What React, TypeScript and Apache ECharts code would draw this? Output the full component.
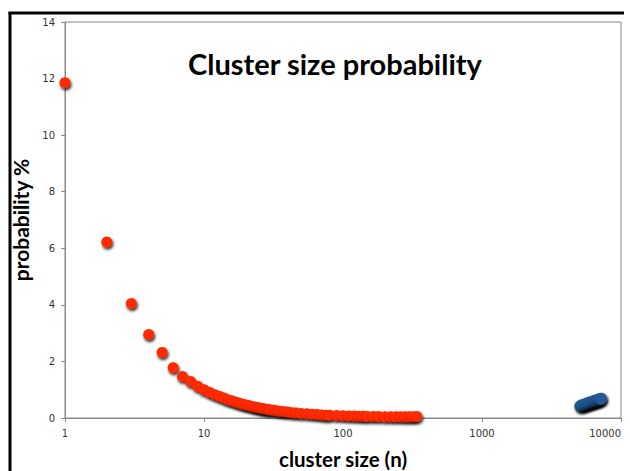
import React, { useEffect, useRef } from "react";
import * as echarts from "echarts";

const redSizes = [1, 2, 3, 4, 5, 6, 7, 8, 9, 10, 11, 12, 13, 14, 15, 16, 17, 18, 19, 20, 21, 22, 23, 24, 25, 26, 27, 28, 29, 30, 32, 34, 36, 38, 40, 43, 46, 50, 55, 60, 65, 70, 75, 80, 90, 100, 110, 120, 130, 140, 150, 165, 180, 200, 220, 240, 260, 280, 300, 320, 340];
const redProb = [11.85, 6.22, 4.05, 2.95, 2.32, 1.78, 1.47, 1.29, 1.12, 1.0, 0.9, 0.82, 0.76, 0.7, 0.64, 0.6, 0.56, 0.52, 0.49, 0.46, 0.44, 0.41, 0.39, 0.37, 0.35, 0.34, 0.32, 0.31, 0.3, 0.28, 0.27, 0.25, 0.23, 0.22, 0.21, 0.19, 0.18, 0.16, 0.15, 0.13, 0.12, 0.11, 0.1, 0.1, 0.09, 0.08, 0.07, 0.07, 0.06, 0.06, 0.05, 0.05, 0.05, 0.04, 0.04, 0.04, 0.04, 0.04, 0.04, 0.04, 0.05];
const blueSizes = [5100, 5250, 5400, 5550, 5700, 5850, 6000, 6150, 6300, 6450, 6600, 6750, 6900, 7050, 7200];
const blueProb = [0.42, 0.45, 0.47, 0.49, 0.51, 0.53, 0.55, 0.57, 0.58, 0.6, 0.62, 0.63, 0.65, 0.66, 0.68];
const yTicks = [0, 2, 4, 6, 8, 10, 12, 14];
const xTicks = [1, 10, 100, 1000, 10000];

const titleText = "Cluster size probability";
const xName = "cluster size (n)";
const yName = "probability %";

export default function App() {
  const ref = useRef<HTMLDivElement>(null);
  useEffect(() => {
    document.body.style.margin = "0";
    document.body.style.overflow = "hidden";
    if (!ref.current) return;
    const chart = echarts.init(ref.current, null, { renderer: "svg" });
    const red = redSizes.map((n, i) => [n, redProb[i]]);
    const blue = blueSizes.map((n, i) => [n, blueProb[i]]);
    const labelFont = { fontFamily: "DejaVu Sans", fontSize: 10, color: "#333" };
    chart.setOption({
      animation: false,
      backgroundColor: "#fff",
      title: {
        text: titleText,
        left: 330,
        top: 44,
        textAlign: "center",
        textStyle: { fontFamily: "Lato", fontWeight: "bold", fontSize: 29, color: "#000" },
      },
      graphic: [
        {
          type: "line",
          shape: { x1: 10, y1: 471, x2: 10, y2: 12 },
          style: { stroke: "#000", lineWidth: 3 },
          silent: true,
        },
        {
          type: "line",
          shape: { x1: 8.5, y1: 13, x2: 624, y2: 13 },
          style: { stroke: "#000", lineWidth: 3 },
          silent: true,
        },
      ],
      grid: {
        left: 65,
        right: 9,
        top: 22,
        bottom: 53,
        show: true,
        borderColor: "#8a8a8a",
        borderWidth: 1,
        containLabel: false,
        outerBoundsMode: "none",
      },
      xAxis: {
        type: "log",
        logBase: 10,
        min: xTicks[0],
        max: xTicks[xTicks.length - 1],
        name: xName,
        nameLocation: "middle",
        nameGap: 30,
        nameTextStyle: { fontFamily: "Lato", fontWeight: "bold", fontSize: 20.5, color: "#000" },
        axisLine: { show: true, lineStyle: { color: "#8a8a8a", width: 1 } },
        axisTick: { show: true, length: 4, lineStyle: { color: "#8a8a8a" } },
        minorTick: { show: false },
        splitLine: { show: false },
        axisLabel: {
          ...labelFont,
          margin: 10,
          alignMaxLabel: "right",
          formatter: (v: number) => String(Math.round(v)),
        },
      },
      yAxis: {
        type: "value",
        min: yTicks[0],
        max: yTicks[yTicks.length - 1],
        interval: 2,
        name: yName,
        nameLocation: "middle",
        nameGap: 30,
        nameTextStyle: { fontFamily: "Lato", fontWeight: "bold", fontSize: 21, color: "#000" },
        axisLine: { show: true, lineStyle: { color: "#8a8a8a", width: 1 } },
        axisTick: { show: true, length: 4, lineStyle: { color: "#8a8a8a" } },
        splitLine: { show: false },
        axisLabel: { ...labelFont, margin: 10 },
      },
      series: [
        {
          type: "scatter",
          data: red,
          symbol: "circle",
          symbolSize: 11,
          itemStyle: {
            color: "#ff2a00",
            opacity: 1,
            shadowColor: "rgba(0,0,0,0.85)",
            shadowBlur: 3,
            shadowOffsetX: 1,
            shadowOffsetY: 2,
          },
        },
        {
          type: "scatter",
          data: blue,
          symbol: "circle",
          symbolSize: 12,
          itemStyle: {
            color: "#245a96",
            opacity: 1,
            shadowColor: "rgba(0,0,0,0.9)",
            shadowBlur: 3,
            shadowOffsetX: 1,
            shadowOffsetY: 2,
          },
        },
      ],
    });
    return () => chart.dispose();
  }, []);
  return <div ref={ref} style={{ width: 630, height: 471, overflow: "hidden" }} />;
}
